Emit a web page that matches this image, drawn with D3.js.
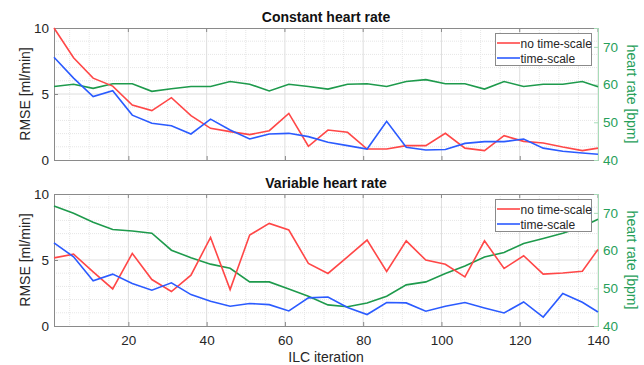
<!DOCTYPE html>
<html>
<head>
<meta charset="utf-8">
<script src="https://cdn.jsdelivr.net/npm/d3@7/dist/d3.min.js"></script>
<style>
  body { margin: 0; background: #fff; }
  svg { font-family: "Liberation Sans", Arial, sans-serif; }
</style>
</head>
<body>
<svg id="chart" width="644" height="365"></svg>
<script>
// iterations sampled every 5, last one at 140
const iterations = [1, 6, 11, 16, 21, 26, 31, 36, 41, 46, 51, 56, 61, 66, 71, 76, 81, 86, 91, 96, 101, 106, 111, 116, 121, 126, 131, 136, 140];

// constant heart rate
const constNoScale = [10.0, 7.75, 6.2, 5.6, 4.17, 3.74, 4.72, 3.36, 2.4, 2.15, 1.92, 2.22, 3.53, 1.04, 2.27, 2.1, 0.83, 0.83, 1.09, 1.09, 2.02, 0.9, 0.71, 1.84, 1.41, 1.29, 0.98, 0.71, 0.9];
const constTimeScale = [7.78, 6.2, 4.8, 5.25, 3.4, 2.78, 2.6, 1.97, 3.1, 2.27, 1.59, 1.97, 2.02, 1.77, 1.34, 1.09, 0.83, 2.93, 0.96, 0.76, 0.8, 1.26, 1.39, 1.39, 1.59, 0.9, 0.66, 0.53, 0.43];
const constHeartRate = [59.5, 60.1, 59.0, 60.2, 60.2, 58.2, 58.9, 59.5, 59.5, 60.8, 60.1, 58.3, 60.1, 59.5, 58.8, 60.1, 60.2, 59.5, 60.8, 61.3, 60.2, 60.2, 58.8, 60.8, 59.5, 60.1, 60.1, 60.8, 59.4];

// variable heart rate
const varNoScale = [5.16, 5.44, 4.1, 2.81, 5.5, 3.52, 2.61, 3.85, 6.71, 2.76, 6.89, 7.77, 7.27, 4.74, 3.98, 5.24, 6.51, 4.13, 6.45, 4.99, 4.68, 3.72, 6.45, 4.36, 5.32, 3.93, 4.02, 4.15, 5.8];
const varTimeScale = [6.3, 5.24, 3.42, 3.93, 3.22, 2.71, 3.27, 2.38, 1.88, 1.5, 1.7, 1.62, 1.14, 2.13, 2.2, 1.4, 0.87, 1.78, 1.75, 1.12, 1.5, 1.78, 1.37, 0.99, 1.82, 0.68, 2.46, 1.8, 1.06];
const varHeartRate = [71.8, 69.9, 67.5, 65.6, 65.2, 64.6, 60.1, 58.1, 56.4, 55.3, 51.7, 51.7, 49.8, 47.9, 45.6, 45.1, 46.1, 47.9, 50.9, 51.7, 53.9, 55.9, 58.3, 59.5, 61.9, 63.2, 64.6, 66.3, 68.3];

const xTicks = [20, 40, 60, 80, 100, 120, 140];
const rmseTicks = [0, 5, 10];
const hrTicks = [40, 50, 60, 70];
const legendLabels = ['no time-scale', 'time-scale'];

const red = '#ff4747';
const blue = '#2b5bff';
const green = '#1e9a4c';
const greenText = '#27a05a';
const axisColor = '#8a8a8a';
const textColor = '#262626';

const left = 54, right = 598;
const svg = d3.select('#chart');

const x = d3.scaleLinear().domain([1, 140]).range([left, right]);

const panels = [
  { title: 'Constant heart rate', top: 28, bottom: 160, red: constNoScale, blue: constTimeScale, hr: constHeartRate, showX: false },
  { title: 'Variable heart rate', top: 194, bottom: 326, red: varNoScale, blue: varTimeScale, hr: varHeartRate, showX: true },
];

panels.forEach((p) => {
  const y = d3.scaleLinear().domain([0, 10]).range([p.bottom, p.top]);
  const yHr = d3.scaleLinear().domain([40, 75]).range([p.bottom, p.top]);
  const g = svg.append('g');

  // minor grid
  const minorX = d3.range(5, 140, 5).filter((v) => v % 20 !== 0);
  g.append('g').selectAll('line').data(minorX).join('line')
    .attr('x1', (d) => x(d)).attr('x2', (d) => x(d))
    .attr('y1', p.top).attr('y2', p.bottom)
    .attr('stroke', '#e6e6e6').attr('stroke-dasharray', '1,1');
  const minorY = d3.range(1, 10).filter((v) => v % 5 !== 0);
  g.append('g').selectAll('line').data(minorY).join('line')
    .attr('x1', left).attr('x2', right)
    .attr('y1', (d) => y(d)).attr('y2', (d) => y(d))
    .attr('stroke', '#e6e6e6').attr('stroke-dasharray', '1,1');

  // major grid
  g.append('g').selectAll('line').data(xTicks).join('line')
    .attr('x1', (d) => x(d)).attr('x2', (d) => x(d))
    .attr('y1', p.top).attr('y2', p.bottom)
    .attr('stroke', '#dedede');
  g.append('g').selectAll('line').data([5]).join('line')
    .attr('x1', left).attr('x2', right)
    .attr('y1', (d) => y(d)).attr('y2', (d) => y(d))
    .attr('stroke', '#dedede');

  // frame top
  g.append('line')
    .attr('x1', left).attr('x2', right).attr('y1', p.top + 0.5).attr('y2', p.top + 0.5)
    .attr('stroke', axisColor);

  // bottom axis
  const xAxis = d3.axisBottom(x).tickValues(xTicks).tickSize(-4).tickPadding(9)
    .tickFormat(p.showX ? d3.format('d') : () => '');
  const xg = g.append('g').attr('transform', `translate(0,${p.bottom})`).call(xAxis);
  xg.select('.domain').attr('stroke', axisColor);
  xg.selectAll('.tick line').attr('stroke', axisColor);
  xg.selectAll('text').attr('fill', textColor).style('font-size', '13.5px');

  // top ticks
  g.append('g').selectAll('line').data(xTicks).join('line')
    .attr('x1', (d) => x(d)).attr('x2', (d) => x(d))
    .attr('y1', p.top).attr('y2', p.top + 4)
    .attr('stroke', axisColor);

  // left axis
  const yAxis = d3.axisLeft(y).tickValues(rmseTicks).tickSize(-4).tickPadding(5);
  const yg = g.append('g').attr('transform', `translate(${left},0)`).call(yAxis);
  yg.select('.domain').attr('stroke', axisColor);
  yg.selectAll('.tick line').attr('stroke', axisColor);
  yg.selectAll('text').attr('fill', textColor).style('font-size', '13.5px');

  // right axis
  const hrAxis = d3.axisRight(yHr).tickValues(hrTicks).tickSize(-4).tickPadding(5);
  const hg = g.append('g').attr('transform', `translate(${right},0)`).call(hrAxis);
  hg.select('.domain').attr('stroke', '#a8dcb8');
  hg.selectAll('.tick line').attr('stroke', '#a8dcb8');
  hg.selectAll('text').attr('fill', greenText).style('font-size', '13.5px');

  // lines
  const line = (scale) => d3.line().x((d, i) => x(iterations[i])).y((d) => scale(d));
  g.append('path').datum(p.hr).attr('d', line(yHr))
    .attr('fill', 'none').attr('stroke', green).attr('stroke-width', 1.6);
  g.append('path').datum(p.red).attr('d', line(y))
    .attr('fill', 'none').attr('stroke', red).attr('stroke-width', 1.6);
  g.append('path').datum(p.blue).attr('d', line(y))
    .attr('fill', 'none').attr('stroke', blue).attr('stroke-width', 1.6);

  // title
  g.append('text')
    .attr('x', (left + right) / 2).attr('y', p.top - 6)
    .attr('text-anchor', 'middle')
    .style('font-size', '14px').style('font-weight', 'bold')
    .attr('fill', '#111')
    .text(p.title);

  // axis labels
  g.append('text')
    .attr('transform', `translate(30,${(p.top + p.bottom) / 2}) rotate(-90)`)
    .attr('text-anchor', 'middle')
    .style('font-size', '14px').attr('fill', textColor)
    .text('RMSE [ml/min]');
  g.append('text')
    .attr('transform', `translate(627,${(p.top + p.bottom) / 2}) rotate(90)`)
    .attr('text-anchor', 'middle')
    .style('font-size', '14px').attr('fill', greenText)
    .text('heart rate [bpm]');

  // legend
  const lg = g.append('g').attr('transform', `translate(495,${p.top + 5})`);
  lg.append('rect').attr('x', 0.5).attr('y', 0.5).attr('width', 96).attr('height', 32)
    .attr('fill', '#fff').attr('stroke', axisColor);
  [red, blue].forEach((c, i) => {
    const ly = 10 + i * 15;
    lg.append('line').attr('x1', 2).attr('x2', 25).attr('y1', ly).attr('y2', ly)
      .attr('stroke', c).attr('stroke-width', 1.6);
    lg.append('text').attr('x', 25.5).attr('y', ly + 4.5)
      .style('font-size', '12px').attr('fill', textColor)
      .text(legendLabels[i]);
  });
});

svg.append('text')
  .attr('x', (left + right) / 2).attr('y', 362)
  .attr('text-anchor', 'middle')
  .style('font-size', '14px').attr('fill', textColor)
  .text('ILC iteration');
</script>
</body>
</html>
